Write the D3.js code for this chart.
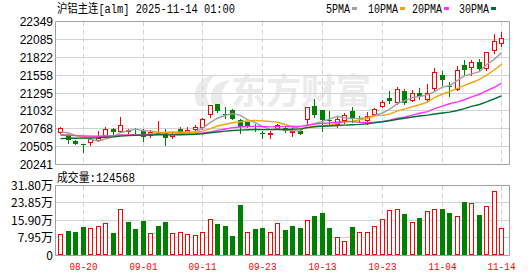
<!DOCTYPE html>
<html>
<head>
<meta charset="utf-8">
<script src="https://cdn.jsdelivr.net/npm/d3@7"></script>
<style>
  body { margin: 0; background: #fff; }
</style>
</head>
<body>
<div id="chart"></div>
<script>
// trading days shown on the chart
var dates = [
  "08-15", "08-18", "08-19", "08-20", "08-21", "08-22", "08-25", "08-26", "08-27", "08-28", "08-29",
  "09-01", "09-02", "09-03", "09-04", "09-05", "09-08", "09-09", "09-10", "09-11", "09-12",
  "09-15", "09-16", "09-17", "09-18", "09-19", "09-22", "09-23", "09-24", "09-25", "09-26",
  "09-29", "09-30", "10-09", "10-10", "10-13", "10-14", "10-15", "10-16", "10-17",
  "10-20", "10-21", "10-22", "10-23", "10-24", "10-27", "10-28", "10-29", "10-30", "10-31",
  "11-03", "11-04", "11-05", "11-06", "11-07", "11-10", "11-11", "11-12", "11-13", "11-14"
];
var open = [
  20722, 20657, 20584, 20537, 20579, 20599, 20672, 20760, 20741, 20737,
  20760, 20731, 20682, 20697, 20707, 20668, 20766, 20716, 20766, 20790,
  20987, 21134, 20980, 21050, 20903, 20866, 20810, 20700, 20697, 20781,
  20781, 20724, 20741, 20913, 21109, 21040, 20903, 20844, 20893, 21035,
  20930, 20903, 20991, 21109, 21222, 21158, 21320, 21187, 21295, 21207,
  21369, 21565, 21400, 21355, 21712, 21680, 21747, 21664, 21922, 22031
];
var high = [
  20796, 20693, 20600, 20540, 20625, 20731, 20796, 20781, 20947, 20760,
  20781, 20760, 20752, 20888, 20771, 20700, 20790, 20800, 20830, 20925,
  21125, 21140, 21084, 21055, 20910, 20870, 20840, 20737, 20731, 20840,
  20790, 20790, 20760, 21095, 21207, 21050, 21025, 20943, 21000, 21090,
  20961, 21010, 21075, 21187, 21320, 21385, 21350, 21335, 21365, 21433,
  21664, 21620, 21452, 21690, 21775, 21775, 21800, 21900, 22168, 22187
];
var low = [
  20707, 20554, 20540, 20422, 20535, 20585, 20660, 20693, 20720, 20672,
  20700, 20584, 20648, 20690, 20525, 20634, 20700, 20700, 20737, 20760,
  20937, 21010, 20928, 20910, 20707, 20795, 20740, 20634, 20634, 20770,
  20725, 20668, 20690, 20845, 20937, 20731, 20830, 20796, 20850, 20864,
  20888, 20840, 20976, 21090, 21148, 21138, 21128, 21170, 21207, 21170,
  21345, 21420, 21246, 21335, 21565, 21565, 21630, 21630, 21884, 21990
];
var close = [
  20775, 20598, 20546, 20530, 20619, 20633, 20766, 20722, 20819, 20756,
  20745, 20648, 20716, 20707, 20634, 20693, 20722, 20756, 20796, 20918,
  21119, 21025, 20976, 20918, 20790, 20805, 20795, 20693, 20702, 20830,
  20731, 20728, 20697, 21090, 20976, 20893, 20888, 20913, 20976, 20913,
  20915, 20961, 21055, 21158, 21173, 21355, 21148, 21295, 21246, 21290,
  21600, 21482, 21393, 21635, 21628, 21747, 21650, 21894, 22055, 22105
];
var volume = [
  97000, 110000, 106000, 129000, 123000, 132000, 146000, 101000, 211000, 152000,
  120000, 157000, 100000, 132000, 152000, 100000, 105000, 95000, 91000, 105000,
  165000, 141000, 132000, 88000, 230000, 105000, 120000, 124000, 106000, 146000,
  115000, 134000, 124000, 161000, 180000, 194000, 124000, 81000, 63000, 129000,
  105000, 105000, 132000, 165000, 206000, 211000, 189000, 151000, 170000, 201000,
  211000, 212000, 194000, 178000, 244000, 238000, 184000, 224000, 294000, 124568
];
// closes before 08-15, only used so the averages start where the picture shows them
var preCloses = [
  20480, 20510, 20495, 20530, 20560, 20520, 20545, 20505, 20540, 20565,
  20600, 20640, 20620, 20680, 20700, 20660, 20690, 20650, 20680, 20700,
  20660, 20630, 20620, 20650, 20650, 20680, 20720, 20700, 20735
];
var priceTicks = [20241, 20505, 20768, 21032, 21295, 21558, 21822, 22085, 22349];
var volTicks = [0, 79500, 159000, 238500, 318000];
var volTickLabels = ["0", "7.95万", "15.90万", "23.85万", "31.80万"];
var dateTicks = ["08-20", "09-01", "09-11", "09-23", "10-13", "10-23", "11-04", "11-14"];
var maPeriods = [5, 10, 20, 30];
var maColors = ["#a0a0a0", "#f5a300", "#ff33ff", "#006f35"];
var title = "沪铝主连[alm] 2025-11-14 01:00";

var UP = "#ff0000", DOWN = "#008000", GRID = "#d3d3d3", FRAME = "#a0a0a0";
var monoFont = "'Liberation Mono', 'Noto Sans CJK SC', monospace";
var sansFont = "'Liberation Sans', Arial, sans-serif";

var width = 530, height = 276;
var left = 55.5, right = 509.5;
var priceTop = 21.5, priceBottom = 164.5;
var volTop = 185.5, volBottom = 255;

var svg = d3
  .select("#chart")
  .append("svg")
  .attr("width", width)
  .attr("height", height);

var x = d3
  .scaleBand()
  .domain(dates)
  .range([56.6, 56.6 + dates.length * 7.475]);
var cx = function (d) {
  return Math.round(x(d) + x.bandwidth() / 2);
};

var y = d3.scaleLinear().domain([20241, 22349]).range([priceBottom, priceTop]);
var yv = d3.scaleLinear().domain([0, 318000]).range([volBottom, volTop]);

var crisp = function (v) {
  return Math.floor(v) + 0.5;
};

// watermark
var mark = svg.append("g").attr("class", "watermark").style("fill", "#ebebeb");
mark
  .append("path")
  .attr("d", "M198,106 C190,92 198,78 216,74 C206,82 204,94 210,106 Z M212,104 C208,92 214,82 230,80 C222,88 220,96 224,104 Z");
mark
  .append("text")
  .attr("x", 231)
  .attr("y", 104)
  .style("font-family", "'Noto Sans CJK SC', sans-serif")
  .style("font-weight", "bold")
  .style("font-size", "35px")
  .text("东方财富");

// grid lines
var grid = svg.append("g").attr("class", "grid");
grid
  .selectAll(null)
  .data(priceTicks.slice(1, -1))
  .enter()
  .append("line")
  .attr("x1", left)
  .attr("x2", right)
  .attr("y1", (d) => crisp(y(d)))
  .attr("y2", (d) => crisp(y(d)))
  .style("stroke", GRID);
grid
  .selectAll(null)
  .data(volTicks.slice(1, -1))
  .enter()
  .append("line")
  .attr("x1", left)
  .attr("x2", right)
  .attr("y1", (d) => crisp(yv(d)))
  .attr("y2", (d) => crisp(yv(d)))
  .style("stroke", GRID);
[[priceTop, priceBottom], [volTop, volBottom]].forEach(function (r) {
  grid
    .selectAll(null)
    .data(dateTicks)
    .enter()
    .append("line")
    .attr("x1", (d) => cx(d) + 0.5)
    .attr("x2", (d) => cx(d) + 0.5)
    .attr("y1", r[0])
    .attr("y2", r[1])
    .style("stroke", GRID)
    .style("stroke-dasharray", "5,3");
});

// candles
var rows = dates.map(function (d, i) {
  return { date: d, o: open[i], h: high[i], l: low[i], c: close[i], v: volume[i],
    prev: i === 0 ? preCloses[preCloses.length - 1] : close[i - 1] };
});

var candles = svg.append("g").attr("class", "candles");
var candle = candles.selectAll(null).data(rows).enter().append("g");
candle
  .append("line")
  .attr("x1", (d) => cx(d.date) + 0.5)
  .attr("x2", (d) => cx(d.date) + 0.5)
  .attr("y1", (d) => Math.round(y(d.h)))
  .attr("y2", (d) => Math.round(y(d.l)) + 1)
  .style("stroke", (d) => (d.c >= d.o ? UP : DOWN));
candle
  .append("rect")
  .attr("x", (d) => (d.c >= d.o ? cx(d.date) - 1.5 : cx(d.date) - 2))
  .attr("y", function (d) {
    var t = Math.round(y(Math.max(d.o, d.c)));
    return d.c >= d.o ? t + 0.5 : t;
  })
  .attr("width", (d) => (d.c >= d.o ? 4 : 5))
  .attr("height", function (d) {
    var h = Math.round(y(Math.min(d.o, d.c))) - Math.round(y(Math.max(d.o, d.c)));
    return d.c >= d.o ? Math.max(h, 0) : Math.max(h, 1);
  })
  .style("fill", (d) => (d.c >= d.o ? "#fff" : DOWN))
  .style("stroke", (d) => (d.c >= d.o ? UP : "none"));

// moving averages
var allCloses = preCloses.concat(close);
var lineGen = d3
  .line()
  .x((d) => cx(d.date) + 0.5)
  .y((d) => d.value);
maPeriods.forEach(function (n, k) {
  var pts = dates.map(function (d, i) {
    var end = i + preCloses.length + 1;
    return { date: d, value: y(d3.mean(allCloses.slice(end - n, end))) };
  });
  svg
    .append("path")
    .attr("class", "ma")
    .attr("d", lineGen(pts))
    .style("fill", "none")
    .style("stroke", maColors[k])
    .style("stroke-width", 1.4);
});

// volume bars
var bars = svg.append("g").attr("class", "volume");
bars
  .selectAll(null)
  .data(rows)
  .enter()
  .append("rect")
  .attr("x", (d) => (d.c >= d.prev ? cx(d.date) - 1.5 : cx(d.date) - 2))
  .attr("y", (d) => (d.c >= d.prev ? Math.round(yv(d.v)) + 0.5 : Math.round(yv(d.v))))
  .attr("width", (d) => (d.c >= d.prev ? 4 : 5))
  .attr("height", (d) => volBottom - Math.round(yv(d.v)) - (d.c >= d.prev ? 1 : 0))
  .style("fill", (d) => (d.c >= d.prev ? "#fff" : DOWN))
  .style("stroke", (d) => (d.c >= d.prev ? UP : "none"));

// frames
svg
  .append("path")
  .attr("d", "M" + left + "," + priceTop + "H" + right + "V" + priceBottom + "H" + left + "Z")
  .style("fill", "none")
  .style("stroke", FRAME);
svg
  .append("path")
  .attr("d", "M" + left + "," + volTop + "H" + right + "V" + (volBottom + 0.5) + "H" + left + "Z")
  .style("fill", "none")
  .style("stroke", FRAME);

// axis labels
var yLabels = svg.append("g").style("font-family", sansFont).style("font-size", "12px").style("fill", "#000");
yLabels
  .selectAll(null)
  .data(priceTicks)
  .enter()
  .append("text")
  .attr("x", 53)
  .attr("y", (d) => y(d) + 4.5)
  .attr("text-anchor", "end")
  .text((d) => d);
yLabels
  .selectAll(null)
  .data(volTicks)
  .enter()
  .append("text")
  .attr("x", 53)
  .attr("y", (d) => yv(d) + 4.5)
  .attr("text-anchor", "end")
  .style("font-family", "'Noto Sans CJK SC', " + sansFont)
  .text((d, i) => volTickLabels[i]);

svg
  .append("g")
  .selectAll(null)
  .data(dateTicks)
  .enter()
  .append("text")
  .attr("x", (d) => cx(d) + 0.5 - 14)
  .attr("y", 269.5)
  .attr("textLength", 28)
  .attr("lengthAdjust", "spacingAndGlyphs")
  .style("font-family", monoFont)
  .style("font-size", "11px")
  .style("fill", UP)
  .text((d) => d);

// title and volume caption
svg
  .append("text")
  .attr("x", 57)
  .attr("y", 13)
  .attr("textLength", 178)
  .attr("lengthAdjust", "spacingAndGlyphs")
  .style("font-family", monoFont)
  .style("font-size", "12px")
  .style("fill", "#000")
  .text(title);
svg
  .append("text")
  .attr("x", 57)
  .attr("y", 182)
  .attr("textLength", 78)
  .attr("lengthAdjust", "spacingAndGlyphs")
  .style("font-family", monoFont)
  .style("font-size", "12px")
  .style("fill", "#000")
  .text("成交量:" + volume[volume.length - 1]);

// legend
var legendX = [326, 368, 412, 459];
var legend = svg.append("g").attr("class", "legend");
maPeriods.forEach(function (n, k) {
  var label = n + "PMA";
  legend
    .append("text")
    .attr("x", legendX[k])
    .attr("y", 13)
    .attr("textLength", label.length * 6)
    .attr("lengthAdjust", "spacingAndGlyphs")
    .style("font-family", monoFont)
    .style("font-size", "12px")
    .style("fill", "#000")
    .text(label);
  legend
    .append("rect")
    .attr("x", legendX[k] + label.length * 6 + 2)
    .attr("y", 7)
    .attr("width", 5)
    .attr("height", 3)
    .style("fill", maColors[k]);
});
</script>
</body>
</html>
